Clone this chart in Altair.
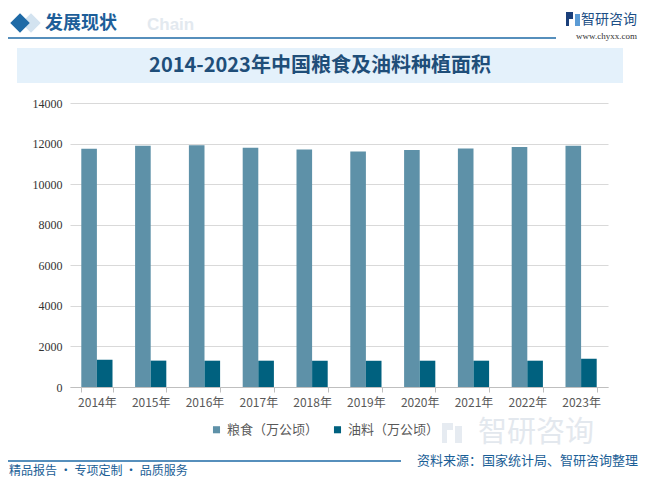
import altair as alt
import pandas as pd

years = ["2014年", "2015年", "2016年", "2017年", "2018年", "2019年", "2020年", "2021年", "2022年", "2023年"]
grain = [11745, 11896, 11923, 11799, 11704, 11606, 11677, 11763, 11833, 11897]
oil = [1340, 1300, 1297, 1297, 1295, 1293, 1296, 1297, 1297, 1390]
series_names = ["粮食（万公顷）", "油料（万公顷）"]
series_colors = ["#5e91a8", "#00617f"]
y_ticks = [0, 2000, 4000, 6000, 8000, 10000, 12000, 14000]

rows = []
for i, yr in enumerate(years):
    rows.append({"year": yr, "series": series_names[0], "value": grain[i]})
    rows.append({"year": yr, "series": series_names[1], "value": oil[i]})
df = pd.DataFrame(rows)

W, H = 538, 284
OX, OY = 70, 103  # plot origin on page
FONT = "Noto Sans CJK SC"
dummy = pd.DataFrame({"a": [0]})


def px(x):
    return alt.value(x - OX)


def py(y):
    return alt.value(y - OY)


def rect(x1, x2, y1, y2, color):
    return alt.Chart(dummy).mark_rect(color=color).encode(
        x=px(x1), x2=px(x2), y=py(y1), y2=py(y2))


def rule(x1, x2, y, color, w):
    return alt.Chart(dummy).mark_rule(color=color, strokeWidth=w).encode(
        x=px(x1), x2=px(x2), y=py(y))


def text(t, x, y, size, color, align="left", weight="normal", font=FONT):
    return alt.Chart(dummy).mark_text(
        text=t, align=align, baseline="middle", fontSize=size, color=color,
        fontWeight=weight, font=font).encode(x=px(x), y=py(y))


def diamond(x, y, size, color):
    return alt.Chart(dummy).mark_point(
        shape="diamond", filled=True, size=size, color=color, opacity=1).encode(
        x=px(x), y=py(y))


deco = [
    # title band
    rect(17, 623, 48, 83, "#e4f1fb"),
    text("2014-2023年中国粮食及油料种植面积", 320, 66, 20, "#1f4e79", align="center", weight="bold"),
    # header
    diamond(31, 23, 380, "#d3e3f0"),
    diamond(20, 23, 380, "#1e6aa6"),
    text("Chain", 147, 25, 17, "#e3e9ef", weight="bold", font="Liberation Sans"),
    text("发展现状", 45, 24, 18, "#1d5e99", weight="bold"),
    rule(8, 556, 38, "#1e6aa6", 1.5),
    rect(566, 573, 12, 19, "#1b3f7a"),
    rect(566, 569, 19, 26, "#1b3f7a"),
    rect(575, 580, 14, 26, "#5b9bd5"),
    text("智研咨询", 637, 20, 14, "#1d4f86", align="right"),
    text("www.chyxx.com", 637, 36, 9, "#333333", align="right", font="Liberation Serif"),
    # faint watermark logo
    text("智研咨询", 478, 433, 29, "#e3e8ee"),
    rect(442, 453, 423, 430, "#e6ebf1"),
    rect(442, 447, 430, 443, "#e6ebf1"),
    rect(455, 462, 426, 443, "#e6ebf1"),
    # footer
    rule(8, 401, 461, "#1e6aa6", 1.5),
    text("资料来源：国家统计局、智研咨询整理", 638, 461, 13, "#1a5e96", align="right"),
    text("精品报告 · 专项定制 · 品质服务", 9, 471, 12, "#1a5e96"),
]

bars = alt.Chart(df).mark_bar().encode(
    x=alt.X("year:N", sort=years,
            scale=alt.Scale(paddingInner=0.42, paddingOuter=0.21),
            axis=alt.Axis(title=None, labelAngle=0, tickBand="extent", ticks=True,
                          tickSize=5, tickColor="#bfbfbf", domainColor="#bfbfbf",
                          labelColor="#595959", labelFontSize=12, labelFont=FONT,
                          labelPadding=5, grid=False)),
    xOffset=alt.XOffset("series:N", sort=series_names),
    y=alt.Y("value:Q", scale=alt.Scale(domain=[0, 14000]),
            axis=alt.Axis(title=None, values=y_ticks, format="d", grid=True,
                          gridColor="#d9d9d9", ticks=False, domain=False,
                          labelPadding=8, labelFontSize=12, labelColor="#333333",
                          labelFont="Liberation Serif")),
    color=alt.Color("series:N", sort=series_names,
                    scale=alt.Scale(domain=series_names, range=series_colors),
                    legend=alt.Legend(orient="none", legendX=140, legendY=320,
                                      direction="horizontal", title=None,
                                      symbolType="square", symbolSize=50,
                                      labelFontSize=13, labelColor="#595959",
                                      labelFont=FONT, columnPadding=12,
                                      labelLimit=200)),
)

chart = alt.layer(*deco, bars).properties(
    width=W, height=H,
    autosize=alt.AutoSizeParams(type="none"),
    padding={"left": OX - 8, "top": OY - 8, "right": 632 - (OX - 8) - W, "bottom": 471 - (OY - 8) - H},
    background="white",
).configure_view(stroke=None)

chart.save("out.html", embed_options={"renderer": "svg", "actions": False})
